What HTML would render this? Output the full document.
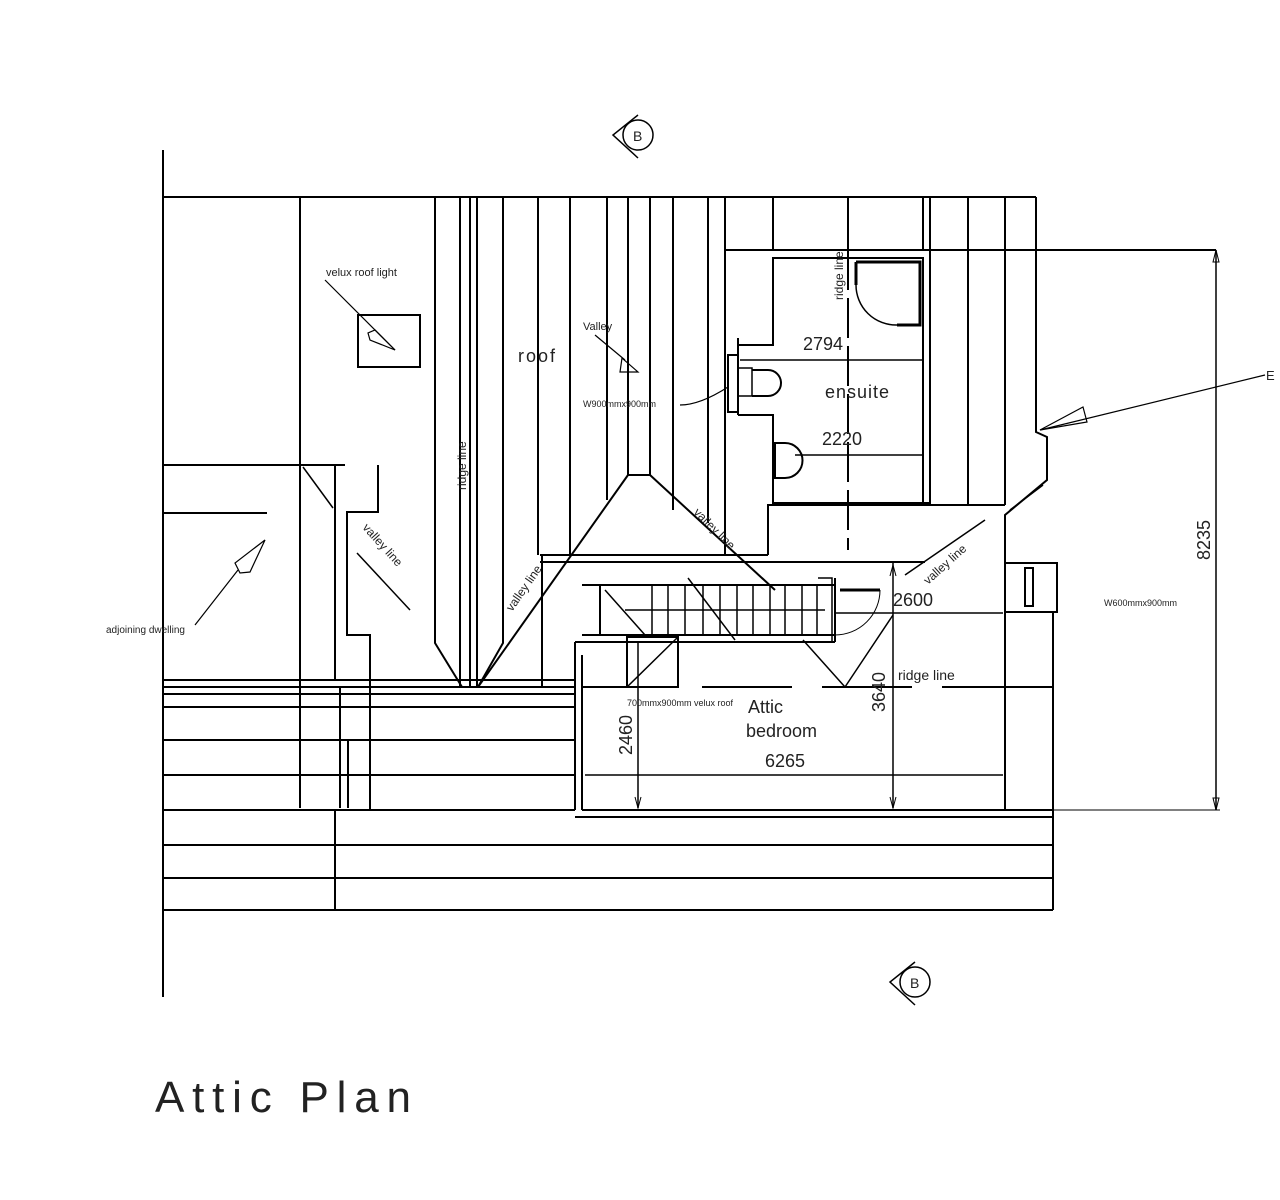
<!DOCTYPE html>
<html><head><meta charset="utf-8"><style>
html,body{margin:0;padding:0;background:#fff;width:1280px;height:1200px;overflow:hidden}
svg{display:block}
text{font-family:"Liberation Sans",sans-serif;fill:#222}
</style></head><body>
<svg width="1280" height="1200" viewBox="0 0 1280 1200" xmlns="http://www.w3.org/2000/svg">
<g stroke="#000" stroke-width="2" fill="none">
<line x1="163" y1="150" x2="163" y2="997"/>
<line x1="163" y1="197" x2="1036" y2="197"/>
<polyline points="1036,197 1036,432 1047,437 1047,480 1005,515 1005,810"/>
<line x1="300" y1="197" x2="300" y2="808"/>
<polyline points="435,197 435,643 462,687"/>
<polyline points="503,197 503,643 478,687"/>
<line x1="460" y1="197" x2="460" y2="687"/>
<line x1="470" y1="197" x2="470" y2="687"/>
<line x1="477" y1="197" x2="477" y2="687"/>
<line x1="538" y1="197" x2="538" y2="555"/>
<line x1="542" y1="555" x2="542" y2="687"/>
<line x1="570" y1="197" x2="570" y2="555"/>
<line x1="607" y1="197" x2="607" y2="500"/>
<polyline points="628,197 628,475 650,475 650,197"/>
<line x1="673" y1="197" x2="673" y2="510"/>
<line x1="708" y1="197" x2="708" y2="523"/>
<line x1="725" y1="197" x2="725" y2="555"/>
<line x1="773" y1="197" x2="773" y2="250"/>
<line x1="848" y1="197" x2="848" y2="250"/>
<line x1="923" y1="197" x2="923" y2="250"/>
<line x1="930" y1="197" x2="930" y2="505"/>
<line x1="968" y1="197" x2="968" y2="505"/>
<line x1="1005" y1="197" x2="1005" y2="505"/>
<line x1="628" y1="475" x2="478" y2="687"/>
<line x1="650" y1="475" x2="775" y2="590"/>
<line x1="540" y1="555" x2="768" y2="555"/>
<line x1="540" y1="562" x2="925" y2="562"/>
<line x1="725" y1="250" x2="1216" y2="250"/>
<polyline points="738,345 773,345 773,258 923,258 923,503"/>
<polyline points="738,415 773,415 773,503 930,503"/>
<line x1="738" y1="338" x2="738" y2="415"/>
<polyline points="768,555 768,505 1005,505"/>
<line x1="848" y1="250" x2="848" y2="550" stroke-dasharray="40,8"/>
<rect x="728" y="355" width="10" height="57"/>
<path d="M856,262 L920,262 L920,325 L897,325" stroke-width="3"/>
<line x1="856" y1="262" x2="856" y2="285" stroke-width="3"/>
<path d="M856,285 A40,40 0 0 0 897,325" stroke-width="1.5"/>
<rect x="738" y="368" width="14" height="28" stroke-width="1.5"/>
<path d="M752,370 L768,370 A13,13 0 0 1 768,396 L752,396" stroke-width="2"/>
<path d="M775,443 L785,443 A17,17 0 0 1 785,478 L775,478 Z" stroke-width="2"/>
<line x1="740" y1="360" x2="923" y2="360" stroke-width="1.5"/>
<line x1="795" y1="455" x2="923" y2="455" stroke-width="1.5"/>
<line x1="1216" y1="250" x2="1216" y2="810" stroke-width="1.5"/>
<line x1="1053" y1="810" x2="1220" y2="810" stroke-width="1"/>
<path d="M1213,262 L1216,250 L1219,262 Z M1213,798 L1216,810 L1219,798 Z" stroke-width="1"/>
<line x1="163" y1="465" x2="345" y2="465"/>
<line x1="163" y1="513" x2="267" y2="513"/>
<line x1="335" y1="465" x2="335" y2="680"/>
<polyline points="378,465 378,512 347,512 347,635 370,635 370,810"/>
<line x1="303" y1="467" x2="333" y2="508" stroke-width="1.5"/>
<line x1="357" y1="553" x2="410" y2="610" stroke-width="1.5"/>
<line x1="582" y1="585" x2="835" y2="585"/>
<line x1="582" y1="635" x2="835" y2="635"/>
<line x1="575" y1="642" x2="835" y2="642"/>
<line x1="600" y1="585" x2="600" y2="635"/>
<line x1="835" y1="578" x2="835" y2="642"/>
<polyline points="818,578 832,578 832,642" stroke-width="1.5"/>
<g stroke-width="1.5">
<line x1="652" y1="585" x2="652" y2="635"/><line x1="668" y1="585" x2="668" y2="635"/><line x1="685" y1="585" x2="685" y2="635"/><line x1="703" y1="585" x2="703" y2="635"/><line x1="720" y1="585" x2="720" y2="635"/><line x1="737" y1="585" x2="737" y2="635"/><line x1="753" y1="585" x2="753" y2="635"/><line x1="770" y1="585" x2="770" y2="635"/><line x1="785" y1="585" x2="785" y2="635"/><line x1="802" y1="585" x2="802" y2="635"/><line x1="817" y1="585" x2="817" y2="635"/>
<line x1="625" y1="610" x2="825" y2="610"/>
<line x1="605" y1="590" x2="645" y2="635"/>
<line x1="688" y1="578" x2="735" y2="640"/>
</g>
<path d="M840,590 L880,590" stroke-width="3"/>
<path d="M880,590 A45,45 0 0 1 835,635" stroke-width="1"/>
<line x1="575" y1="642" x2="575" y2="810"/>
<line x1="582" y1="655" x2="582" y2="810"/>
<rect x="627" y="637" width="51" height="50"/>
<line x1="627" y1="687" x2="678" y2="637" stroke-width="1.5"/>
<line x1="803" y1="640" x2="845" y2="687" stroke-width="1.5"/>
<line x1="845" y1="687" x2="893" y2="615" stroke-width="1.5"/>
<line x1="905" y1="575" x2="985" y2="520" stroke-width="1.5"/>
<line x1="1010" y1="510" x2="1043" y2="485" stroke-width="1.5"/>
<line x1="582" y1="687" x2="1005" y2="687" stroke-dasharray="90,30"/>
<line x1="1005" y1="687" x2="1053" y2="687"/>
<line x1="585" y1="775" x2="1003" y2="775" stroke-width="1.5"/>
<line x1="638" y1="642" x2="638" y2="808" stroke-width="1.5"/>
<line x1="893" y1="563" x2="893" y2="808" stroke-width="1.5"/>
<line x1="835" y1="613" x2="1003" y2="613" stroke-width="1.5"/>
<path d="M635,797 L638,808 L641,797 M890,797 L893,808 L896,797 M890,576 L893,565 L896,576" stroke-width="1"/>
<rect x="1005" y="563" width="52" height="49"/>
<rect x="1025" y="568" width="8" height="38"/>
<line x1="1057" y1="563" x2="1057" y2="612"/>
<line x1="163" y1="680" x2="575" y2="680"/>
<line x1="163" y1="687" x2="575" y2="687"/>
<line x1="163" y1="694" x2="575" y2="694"/>
<line x1="163" y1="707" x2="575" y2="707"/>
<line x1="163" y1="740" x2="575" y2="740"/>
<line x1="163" y1="775" x2="575" y2="775"/>
<line x1="163" y1="810" x2="575" y2="810"/>
<line x1="582" y1="810" x2="1053" y2="810"/>
<line x1="575" y1="817" x2="1053" y2="817"/>
<line x1="163" y1="845" x2="1053" y2="845"/>
<line x1="163" y1="878" x2="1053" y2="878"/>
<line x1="163" y1="910" x2="1053" y2="910"/>
<line x1="1053" y1="612" x2="1053" y2="910"/>
<line x1="335" y1="810" x2="335" y2="910"/>
<line x1="340" y1="687" x2="340" y2="808"/>
<line x1="348" y1="740" x2="348" y2="808"/>
<rect x="358" y="315" width="62" height="52"/>
<g stroke-width="1.2">
<line x1="325" y1="280" x2="395" y2="350"/>
<path d="M395,350 L370,340 L368,333 L375,330 Z"/>
<line x1="195" y1="625" x2="238" y2="570"/>
<path d="M265,540 L250,572 L240,573 L235,563 Z"/>
<line x1="595" y1="335" x2="625" y2="360"/>
<path d="M638,372 L620,372 L622,358 Z"/>
<path d="M680,405 Q700,405 728,387"/>
<line x1="1040" y1="430" x2="1265" y2="375"/>
<path d="M1040,430 L1083,407 L1087,422 Z"/>
</g>
<circle cx="638" cy="135" r="15" stroke-width="1.5"/>
<path d="M638,115 L613,135 L638,158" stroke-width="1.5"/>
<circle cx="915" cy="982" r="15" stroke-width="1.5"/>
<path d="M915,962 L890,982 L915,1005" stroke-width="1.5"/>
</g>
<g>
<text x="633" y="141" font-size="14">B</text>
<text x="910" y="988" font-size="14">B</text>
<text x="1266" y="380" font-size="13">E</text>
<text x="326" y="276" font-size="11">velux roof light</text>
<text x="106" y="633" font-size="10">adjoining dwelling</text>
<text x="583" y="330" font-size="11">Valley</text>
<text x="518" y="362" font-size="18" letter-spacing="2">roof</text>
<text x="583" y="407" font-size="9">W900mmx900mm</text>
<text x="803" y="350" font-size="18">2794</text>
<text x="825" y="398" font-size="18" letter-spacing="1">ensuite</text>
<text x="822" y="445" font-size="18">2220</text>
<text x="893" y="606" font-size="18">2600</text>
<text x="898" y="680" font-size="14">ridge line</text>
<text x="1104" y="606" font-size="9">W600mmx900mm</text>
<text x="627" y="706" font-size="9">700mmx900mm velux roof</text>
<text x="748" y="713" font-size="18">Attic</text>
<text x="746" y="737" font-size="18">bedroom</text>
<text x="765" y="767" font-size="18">6265</text>
<text transform="translate(632,755) rotate(-90)" font-size="18">2460</text>
<text transform="translate(885,712) rotate(-90)" font-size="18">3640</text>
<text transform="translate(1210,560) rotate(-90)" font-size="18">8235</text>
<text transform="translate(466,490) rotate(-90)" font-size="12">ridge line</text>
<text transform="translate(843,300) rotate(-90)" font-size="12">ridge line</text>
<text transform="translate(362,528) rotate(48)" font-size="12">valley line</text>
<text transform="translate(693,513) rotate(45)" font-size="12">valley line</text>
<text transform="translate(512,612) rotate(-55)" font-size="12">valley line</text>
<text transform="translate(928,585) rotate(-42)" font-size="12">valley line</text>
<text x="155" y="1112" font-size="44" letter-spacing="9" fill="#333" textLength="265" lengthAdjust="spacing">Attic Plan</text>
</g>
</svg>
</body></html>
